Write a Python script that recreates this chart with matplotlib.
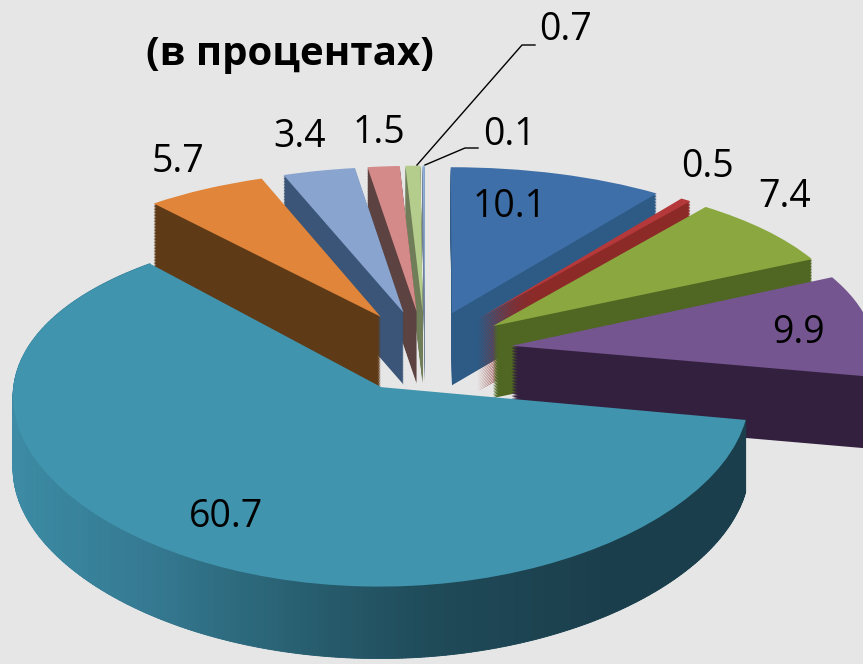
import matplotlib
matplotlib.use("Agg")
import matplotlib.pyplot as plt
import numpy as np
from matplotlib.collections import PolyCollection
from matplotlib.colors import LinearSegmentedColormap
from matplotlib.transforms import Transform

# shares, clockwise from 12 o'clock
values = [10.1, 0.5, 7.4, 9.9, 60.7, 5.7, 3.4, 1.5, 0.7, 0.1]
top_colors = ["#3f6fa8", "#b5393a", "#8aa83f", "#74558f", "#4094ae",
              "#e0853a", "#88a4cf", "#d58a8a", "#b4cc8c", "#8fb0d8"]
wall_colors = ["#2d5b86", "#8c2a28", "#4f6722", "#33203e", "#2f7085",
               "#5e3a17", "#3a5578", "#5c4240", "#6f7e58", "#6f8098"]
label_x = [510, 707, 785, 798, 226, 178, 300, 379, 565, 509]
label_y = [207, 167, 197, 333, 517, 162, 137, 133, 30, 135]

# order the slices are painted in, back to front
paint_order = [0, 1, 2, 3, 9, 8, 7, 6, 5, 4]
big = 4
explode_all = 0.24
thickness = 72


class TiltedPie(Transform):
    # unit pie plane -> pixel position, rear part a bit smaller
    input_dims = 2
    output_dims = 2
    is_separable = False
    has_inverse = False

    def __init__(self, z=0.0):
        super().__init__()
        self.z = z

    def transform_non_affine(self, values):
        xy = np.asarray(values, dtype=float)
        u, v = xy[:, 0], xy[:, 1]
        sx = 425 + 364 * u / (1 + 0.048 * v)
        sy = 351 - 169.5 * v / (1 + 0.108 * v) + self.z
        return np.column_stack([sx, sy])


plt.rcParams["font.family"] = ["Open Sans", "DejaVu Sans"]
fig = plt.figure(figsize=(8.63, 6.64), dpi=100, facecolor="#e6e6e6")
ax = fig.add_axes([0, 0, 1, 1])

explode = [explode_all] * len(values)
depths = list(np.arange(thickness, 0, -1.5)) + [0]

for n, z in enumerate(depths):
    wedges, _ = ax.pie(values, explode=explode, startangle=90, counterclock=False,
                       radius=1, center=(0, 0), normalize=True)
    for i, w in enumerate(wedges):
        w.set_transform(TiltedPie(z) + ax.transData)
        w.set_facecolor(top_colors[i] if z == 0 else wall_colors[i])
        w.set_edgecolor("none")
        w.set_linewidth(0)
        # big wall goes under its rim gradient, top face above it
        w.set_zorder(paint_order.index(i) * 10 + (5 if z == 0 else 1) + n * 0.01)

# rim of the big slice, shaded by horizontal position
rim_cmap = LinearSegmentedColormap.from_list(
    "rim", [(0.0, "#3d8ba5"), (0.16, "#357a92"), (0.34, "#285f70"),
            (0.5, "#1f4a58"), (0.7, "#1b3e4c"), (1.0, "#1b3e4c")])
start = sum(values[:big]) / sum(values) * 2 * np.pi
stop = sum(values[:big + 1]) / sum(values) * 2 * np.pi
mid = (start + stop) / 2
off = explode_all * np.array([np.sin(mid), np.cos(mid)])
t = np.linspace(start, stop, 400)
rim = np.column_stack([np.sin(t) + off[0], np.cos(t) + off[1]])
upper = TiltedPie(0).transform(rim)
lower = TiltedPie(thickness).transform(rim)
polys = [[upper[i], upper[i + 1], lower[i + 1], lower[i]] for i in range(len(t) - 1)]
shade = rim_cmap(np.clip((upper[:-1, 0] - 13) / 850, 0, 1))
ax.add_collection(PolyCollection(polys, facecolors=shade, edgecolors=shade, linewidths=0.6,
                                 zorder=paint_order.index(big) * 10 + 3))

for i, v in enumerate(values):
    ax.text(label_x[i], label_y[i], "%.1f" % v, fontsize=27, color="black",
            ha="center", va="center", zorder=200)

# leader lines of the two thin slices
ax.plot([535, 522, 417], [45, 45, 165], color="black", lw=1, zorder=150)
ax.plot([478, 465, 425], [148, 148, 165], color="black", lw=1, zorder=150)

ax.text(290, 54, "(в процентах)", fontsize=29, fontweight="bold", color="black",
        ha="center", va="center", zorder=200)

ax.set_aspect("auto")
ax.set_xlim(0, 863)
ax.set_ylim(664, 0)
ax.axis("off")
fig.savefig("out.png", dpi=100, facecolor=fig.get_facecolor())
